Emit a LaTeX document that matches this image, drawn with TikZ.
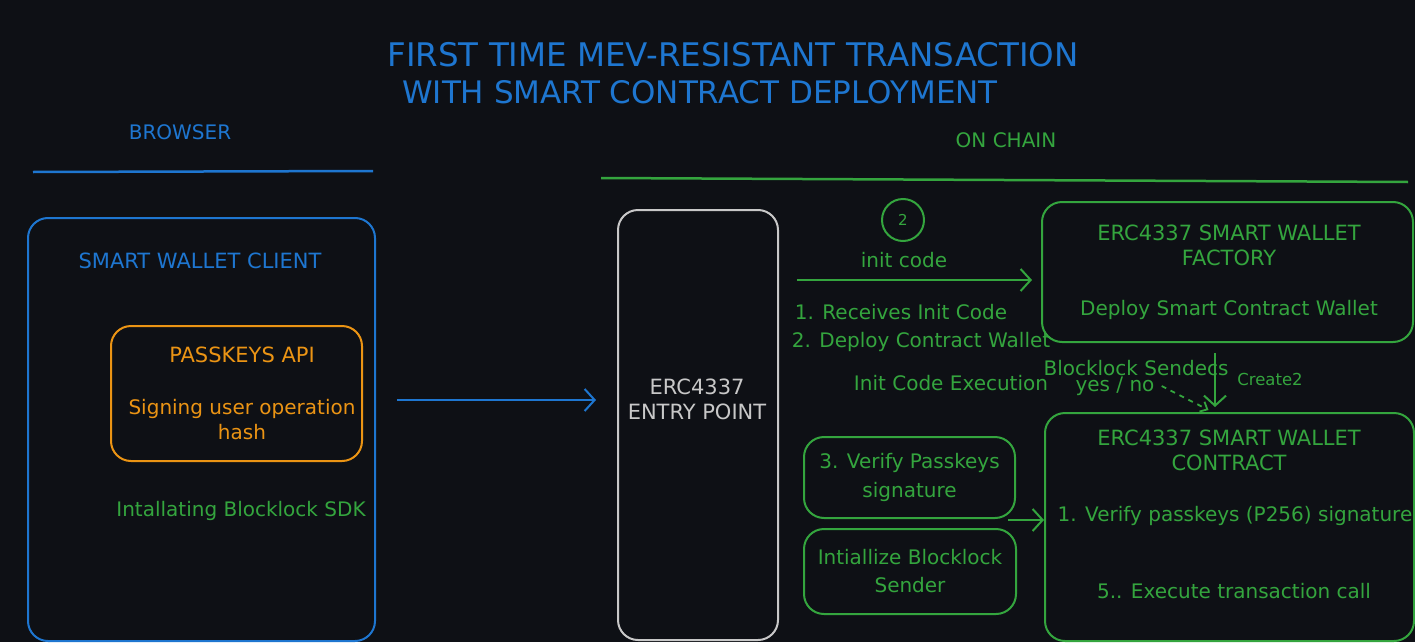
\documentclass[tikz,border=0pt]{standalone}
\usepackage{fontspec}
\setmainfont{DejaVu Sans}
\usetikzlibrary{arrows.meta}
\definecolor{bgdark}{RGB}{14,16,21}
\definecolor{skblue}{RGB}{30,118,208}
\definecolor{skgreen}{RGB}{52,165,62}
\definecolor{skorange}{RGB}{235,148,20}
\definecolor{skgrey}{RGB}{200,200,200}
\begin{document}
\begin{tikzpicture}[x=1pt,y=-1pt]
      \tikzstyle{every node}=[align=center,inner sep=0pt,font=\fontsize{20}{25}\selectfont]
      \tikzstyle{box}=[draw,rounded corners=20pt,line width=2pt]
      \tikzstyle{caps}=[font=\fontsize{21}{25}\selectfont]
      \tikzstyle{big}=[font=\fontsize{32.5}{37}\selectfont]
      \tikzstyle{arr}=[line width=2pt,-{Straight Barb[length=10pt,width=22pt,line width=2pt]}]
      %%% background / page
      \fill[bgdark] (0,0) rectangle (1415,642);
      \useasboundingbox (0,0) rectangle (1415,642);
      %% Title
      \node[big,skblue] (title1) at (733,55) {FIRST TIME MEV-RESISTANT TRANSACTION};
      \node[big,skblue,font=\fontsize{31}{37}\selectfont] (title2) at (700,92) {WITH SMART CONTRACT DEPLOYMENT};
      % Browser side
      \node[caps,skblue,font=\fontsize{20}{25}\selectfont] (browser) at (180,132) {BROWSER};
      \draw[skblue,line width=2.5pt] (33,172) -- (373,171);
      \node[box,skblue,minimum width=347,minimum height=423] (client) at (201.5,429.5) {};
      \node[caps,skblue] (clientlbl) at (200,261) {SMART WALLET CLIENT};
      \node[box,skorange,minimum width=251,minimum height=135] (passkeys) at (236.5,393.5) {};
      \node[caps,skorange] (passkeyslbl) at (242,355) {PASSKEYS API};
      \node[skorange] (signing) at (242,420) {Signing user operation\\hash};
      \node[skgreen] (sdk) at (241,511) {Intallating Blocklock SDK};
      % On chain side
      \node[caps,skgreen,font=\fontsize{20}{25}\selectfont] (onchain) at (1006,140) {ON CHAIN};
      \draw[skgreen,line width=2.5pt] (601,178) -- (1408,182);
      \node[box,skgrey,minimum width=160,minimum height=430] (entry) at (698,425) {};
      \node[caps,skgrey] (entrylbl) at (697,399) {ERC4337\\ENTRY POINT};
      % Factory
      \node[box,skgreen,minimum width=371,minimum height=140] (factory) at (1227.5,272) {};
      \node[caps,skgreen] (factorylbl) at (1229,245.5) {ERC4337 SMART WALLET\\FACTORY};
      \node[skgreen] (deploysc) at (1229,310) {Deploy Smart Contract Wallet};
      % Contract
      \node[box,skgreen,minimum width=369,minimum height=228] (contract) at (1229.5,527) {};
      \node[caps,skgreen] (contractlbl) at (1229,450.5) {ERC4337 SMART WALLET\\CONTRACT};
      \node[skgreen] (verifyp) at (1235,516) {1. Verify passkeys (P256) signature};
      \node[skgreen] (execute) at (1234,591) {5.. Execute transaction call};
      % small boxes
      \node[box,skgreen,minimum width=211,minimum height=81,font=\fontsize{20}{29}\selectfont] (verify) at (909.5,477.5) {3. Verify Passkeys\\signature};
      \node[box,skgreen,minimum width=212,minimum height=85,font=\fontsize{20}{28}\selectfont] (sender) at (910,571.5) {Intiallize Blocklock\\Sender};
      % init code step
      \node[draw,skgreen,circle,line width=2pt,minimum size=42,font=\fontsize{15}{18}\selectfont] (step2) at (903,220) {2};
      \node[skgreen] (initcode) at (904,260) {init code};
      \node[skgreen] (receives) at (901,312) {1. Receives Init Code};
      \node[skgreen] (deploycw) at (921,342) {2. Deploy Contract Wallet};
      \node[skgreen] (execution) at (951,383) {Init Code Execution};
      \node[skgreen] (sendecs) at (1136,368) {Blocklock Sendecs};
      \node[skgreen] (yesno) at (1115,386) {yes / no};
      \node[skgreen,font=\fontsize{16.5}{18}\selectfont] (create2) at (1270,379) {Create2};
      %% connectors
      \draw[arr,skblue,shorten <=21pt,shorten >=21pt] ([yshift=29.5pt]client.east) -- ([yshift=29.5pt]client.east -| entry.west);
      \draw[arr,skgreen,shorten <=18pt,shorten >=9pt] ([yshift=-8pt]factory.west -| entry.east) -- ([yshift=-8pt]factory.west);
      \draw[arr,skgreen,shorten <=10pt,shorten >=5pt] ([xshift=-12.5pt]factory.south) -- ([xshift=-12.5pt]factory.south |- contract.north);
      \draw[skgreen,line width=1.8pt,dash pattern=on 5pt off 5pt,-{Straight Barb[length=6pt,width=11pt]}] ([xshift=7pt]yesno.east) -- ([xshift=-21pt,yshift=2pt]contract.north);
      \coordinate (joint) at (1008,520);
      \draw[arr,skgreen] (joint) -- (joint -| contract.west);
\end{tikzpicture}
\end{document}
